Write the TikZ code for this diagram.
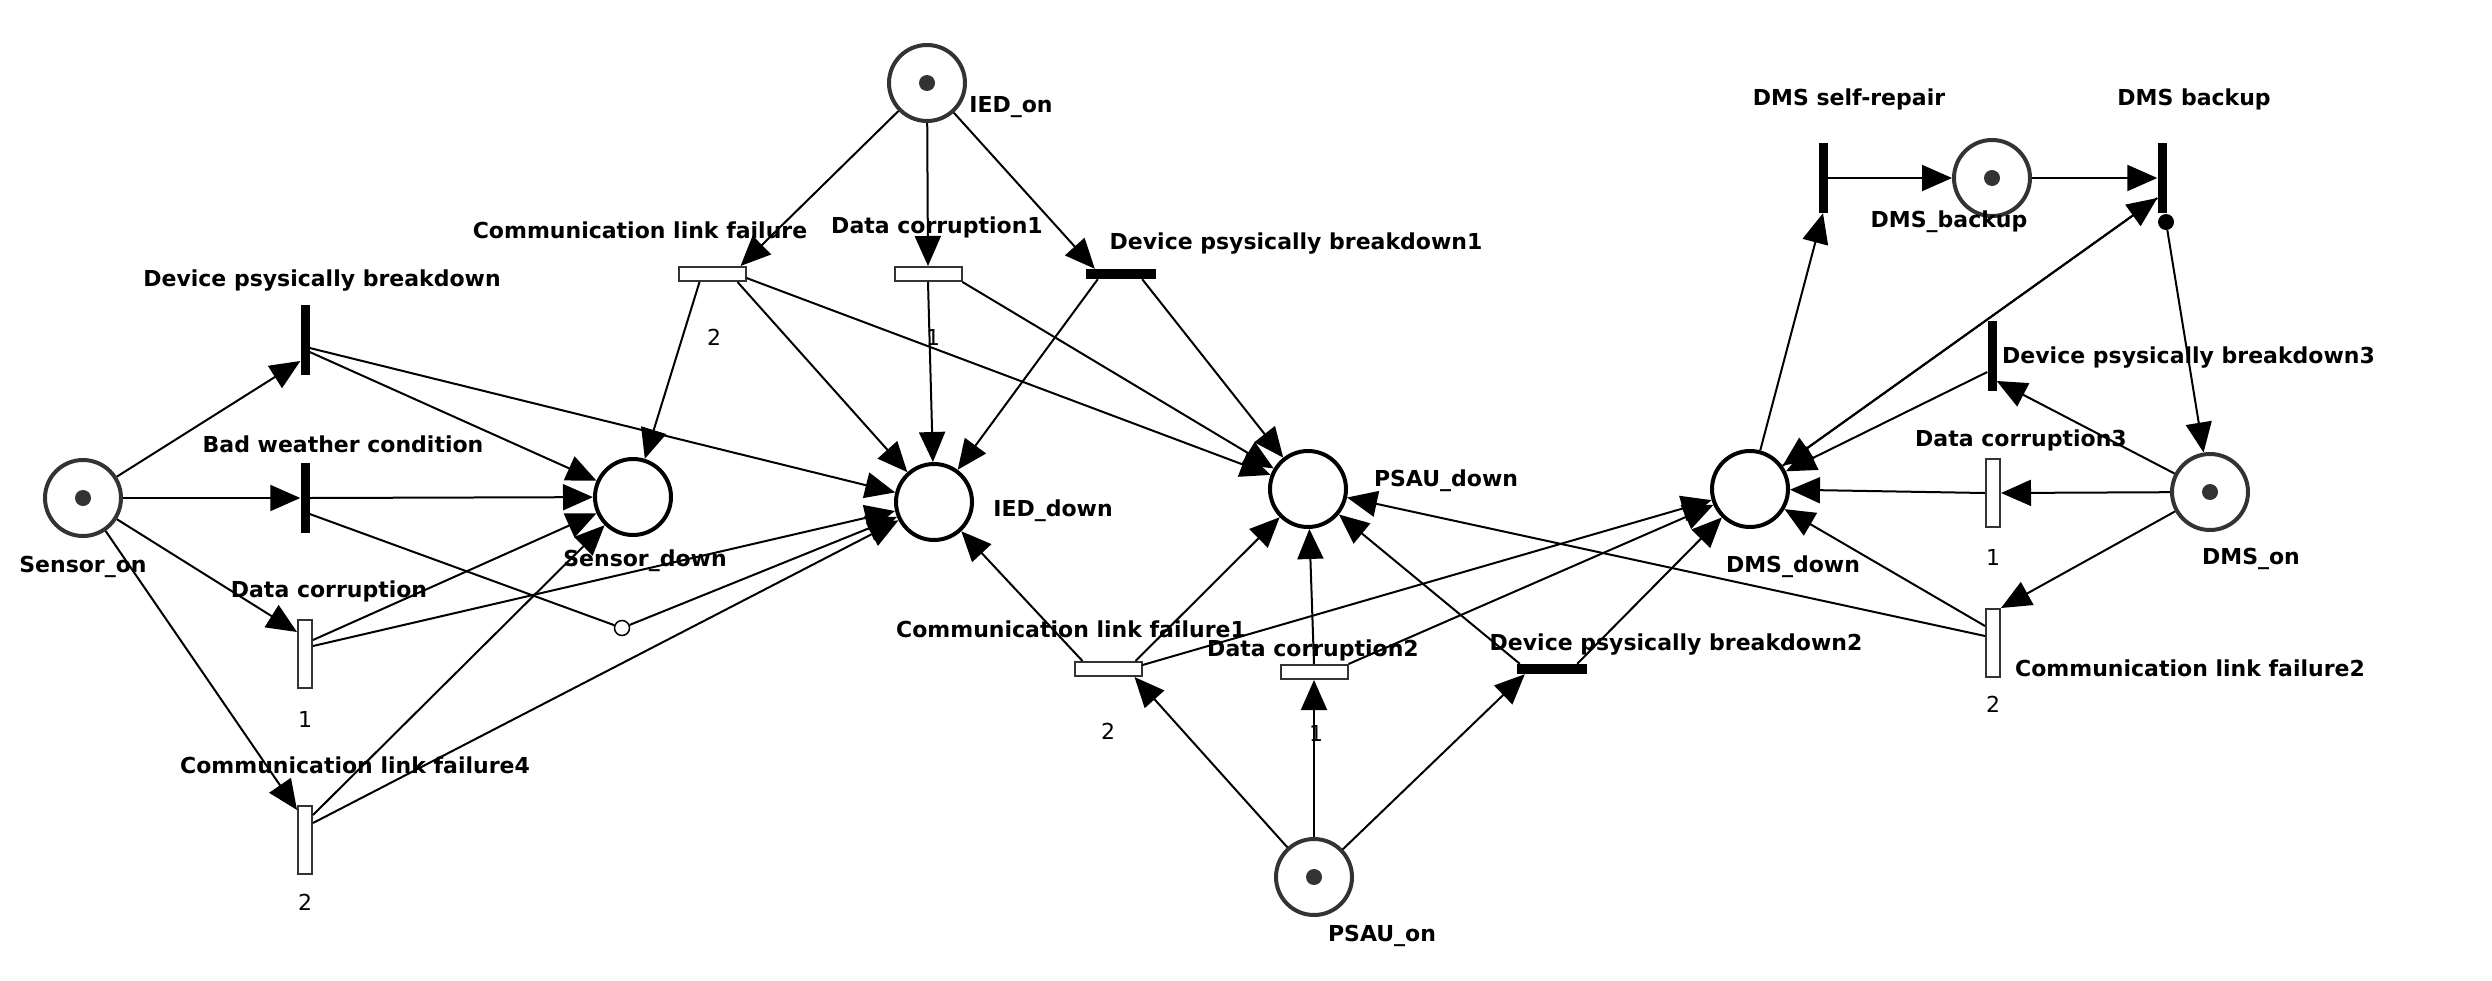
\documentclass[tikz,border=0pt]{standalone}
\usepackage{fontspec}
\setmainfont{DejaVu Sans}
\usetikzlibrary{arrows.meta}
\definecolor{tokgrey}{HTML}{333333}
\begin{document}
\begin{tikzpicture}[x=1pt,y=-1pt,
  placeon/.style={circle, draw=tokgrey, line width=4pt, minimum size=76pt, inner sep=0pt, fill=white},
  placedn/.style={circle, draw=black, line width=4pt, minimum size=76pt, inner sep=0pt, fill=white},
  token/.style={circle, fill=tokgrey, minimum size=16pt, inner sep=0pt},
  vbar/.style={rectangle, fill=black, minimum width=9pt, minimum height=70pt, inner sep=0pt},
  hbar/.style={rectangle, fill=black, minimum width=70pt, minimum height=10pt, inner sep=0pt},
  vrect/.style={rectangle, draw=tokgrey, fill=white, line width=2pt, minimum width=14pt, minimum height=68pt, inner sep=0pt},
  hrect/.style={rectangle, draw=tokgrey, fill=white, line width=2pt, minimum width=67pt, minimum height=14pt, inner sep=0pt},
  lab/.style={font=\bfseries\fontsize{22}{26}\selectfont, inner sep=0pt},
  wlab/.style={font=\fontsize{22}{26}\selectfont, inner sep=0pt},
  arc/.style={-{Triangle[length=30pt,width=26pt]}, line width=2pt},
  plain/.style={line width=2pt},
  inhib/.style={circle, draw=black, fill=white, line width=1.5pt, minimum size=15pt, inner sep=0pt},
  rdot/.style={circle, fill=black, minimum size=16pt, inner sep=0pt}]
\useasboundingbox (0,0) rectangle (2492,980);

% places
\node[placeon] (son) at (83,498) {};
\node[placedn] (sdn) at (633,497) {};
\node[placeon] (ion) at (927,83) {};
\node[placedn] (idn) at (934,502) {};
\node[placedn] (pdn) at (1308,489) {};
\node[placeon] (pon) at (1314,877) {};
\node[placedn] (ddn) at (1750,489) {};
\node[placeon] (dbk) at (1992,178) {};
\node[placeon] (don) at (2210,492) {};
\node[token] (k1) at (son) {};
\node[token] (k2) at (ion) {};
\node[token] (k3) at (pon) {};
\node[token] (k4) at (dbk) {};
\node[token] (k5) at (don) {};

% transitions
\node[vbar] (t1) at (305,340) {};
\node[vbar] (t2) at (305,498) {};
\node[vrect] (t3) at (305,654) {};
\node[vrect] (t4) at (305,840) {};
\node[hrect] (t5) at (712,274) {};
\node[hrect] (t6) at (928,274) {};
\node[hbar] (t7) at (1121,274) {};
\node[hrect] (t8) at (1108,669) {};
\node[hrect] (t9) at (1314,672) {};
\node[hbar] (t10) at (1552,669) {};
\node[vbar] (t11) at (1823,178) {};
\node[vbar] (t12) at (2162,178) {};
\node[vbar] (t13) at (1992,356) {};
\node[vrect] (t14) at (1993,493) {};
\node[vrect] (t15) at (1993,643) {};
\node[inhib] (inh) at (622,628) {};
\node[rdot] (dot) at (2166,222) {};

% labels
\node[lab] (lson) at (83,567) {Sensor\_on};
\node[lab] (lsdn) at (645,561) {Sensor\_down};
\node[lab] (lion) at (1011,107) {IED\_on};
\node[lab] (lidn) at (1053,511) {IED\_down};
\node[lab] (lpdn) at (1446,481) {PSAU\_down};
\node[lab] (lpon) at (1382,936) {PSAU\_on};
\node[lab] (ldbk) at (1949,222) {DMS\_backup};
\node[lab] (lddn) at (1793,567) {DMS\_down};
\node[lab] (ldon) at (2251,559) {DMS\_on};
\node[lab] (lt1) at (322,281) {Device psysically breakdown};
\node[lab] (lt2) at (343,444) {Bad weather condition};
\node[lab] (lt3) at (329,591) {Data corruption};
\node[lab] (lt4) at (355,765) {Communication link failure4};
\node[lab] (lt5) at (640,230) {Communication link failure};
\node[lab] (lt6) at (937,227) {Data corruption1};
\node[lab] (lt7) at (1296,244) {Device psysically breakdown1};
\node[lab] (lt8) at (1071,629) {Communication link failure1};
\node[lab] (lt9) at (1313,650) {Data corruption2};
\node[lab] (lt10) at (1676,645) {Device psysically breakdown2};
\node[lab] (lt11) at (1849,99) {DMS self-repair};
\node[lab] (lt12) at (2194,99) {DMS backup};
\node[lab, anchor=west] (lt13) at (2002,358) {Device psysically breakdown3};
\node[lab, anchor=west] (lt14) at (1915,440) {Data corruption3};
\node[lab] (lt15) at (2190,668) {Communication link failure2};
\node[wlab] (w3) at (305,719) {1};
\node[wlab] (w4) at (305,902) {2};
\node[wlab] (w5) at (714,337) {2};
\node[wlab] (w6) at (933,337) {1};
\node[wlab] (w8) at (1108,731) {2};
\node[wlab] (w9) at (1316,733) {1};
\node[wlab] (w14) at (1993,557) {1};
\node[wlab] (w15) at (1993,704) {2};

% arcs: sensor part
\draw[arc] (son) -- ([yshift=-21pt]t1.west);
\draw[arc] (son) -- (t2.west);
\draw[arc] (son) -- ([yshift=22pt]t3.west);
\draw[arc] (son) -- ([yshift=30pt]t4.west);
\draw[arc] ([yshift=-12pt]t1.east) -- (sdn);
\draw[arc] ([yshift=-8pt]t1.east) -- (idn);
\draw[arc] (t2.east) -- (sdn);
\draw[plain] ([yshift=-16pt]t2.east) -- (inh);
\draw[arc] (inh) -- (idn);
\draw[arc] ([yshift=14pt]t3.east) -- (sdn);
\draw[arc] ([yshift=8pt]t3.east) -- (idn);
\draw[arc] ([yshift=25pt]t4.east) -- (sdn);
\draw[arc] ([yshift=17pt]t4.east) -- (idn);

% IED part
\draw[arc] (ion) -- ([xshift=-6pt]t5.north east);
\draw[arc] (ion) -- (t6.north);
\draw[arc] (ion) -- ([xshift=9pt]t7.north west);
\draw[arc] ([xshift=22pt]t5.south west) -- (sdn);
\draw[arc] ([xshift=-9pt]t5.south east) -- (idn);
\draw[arc] ([yshift=-4pt]t5.east) -- (pdn);
\draw[arc] (t6.south) -- (idn);
\draw[arc] (t6.south east) -- (pdn);
\draw[arc] ([xshift=12pt]t7.south west) -- (idn);
\draw[arc] ([xshift=-14pt]t7.south east) -- (pdn);

% PSAU part
\draw[arc] (pon) -- ([xshift=-8pt]t8.south east);
\draw[arc] (pon) -- (t9.south);
\draw[arc] (pon) -- ([xshift=8pt]t10.south west);
\draw[arc] ([xshift=9pt]t8.north west) -- (idn);
\draw[arc] ([xshift=-7pt]t8.north east) -- (pdn);
\draw[arc] ([yshift=4pt]t8.east) -- (ddn);
\draw[arc] (t9.north) -- (pdn);
\draw[arc] (t9.north east) -- (ddn);
\draw[arc] ([xshift=3pt]t10.north west) -- (pdn);
\draw[arc] ([xshift=-10pt]t10.north east) -- (ddn);

% DMS part
\draw[arc] (ddn) -- (t11.south);
\draw[arc] (t11) -- (dbk);
\draw[arc] (dbk) -- (t12);
\draw[arc] (ddn) -- ([yshift=-20pt]t12.west);
\draw[arc] ([yshift=-20pt]t12.west) -- (ddn);
\draw[arc] (dot) -- (don);
\draw[arc] (don) -- ([yshift=-25pt]t13.east);
\draw[arc] ([yshift=-16pt]t13.west) -- (ddn);
\draw[arc] (don) -- (t14.east);
\draw[arc] (t14.west) -- (ddn);
\draw[arc] (don) -- (t15.north east);
\draw[arc] ([yshift=17pt]t15.west) -- (ddn);
\draw[arc] ([yshift=7pt]t15.west) -- (pdn);
\end{tikzpicture}
\end{document}
